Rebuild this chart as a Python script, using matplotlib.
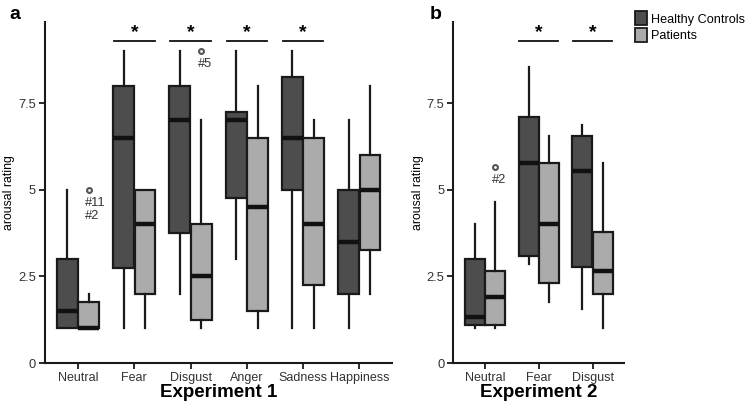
import matplotlib
matplotlib.use("Agg")
import matplotlib.pyplot as plt
from matplotlib.patches import Patch

plt.rcParams['font.family'] = ['Liberation Sans', 'DejaVu Sans']

# Experiment 1 (panel a)
cats_a = ['Neutral', 'Fear', 'Disgust', 'Anger', 'Sadness', 'Happiness']
hc_a_lo = [1.0, 1.0, 2.0, 3.0, 1.0, 1.0]
hc_a_q1 = [1.0, 2.75, 3.75, 4.75, 5.0, 2.0]
hc_a_med = [1.5, 6.5, 7.0, 7.0, 6.5, 3.5]
hc_a_q3 = [3.0, 8.0, 8.0, 7.25, 8.25, 5.0]
hc_a_hi = [5.0, 9.0, 9.0, 9.0, 9.0, 7.0]
pt_a_lo = [1.0, 1.0, 1.0, 1.0, 1.0, 2.0]
pt_a_q1 = [1.0, 2.0, 1.25, 1.5, 2.25, 3.25]
pt_a_med = [1.0, 4.0, 2.5, 4.5, 4.0, 5.0]
pt_a_q3 = [1.75, 5.0, 4.0, 6.5, 6.5, 6.0]
pt_a_hi = [2.0, 5.0, 7.0, 8.0, 7.0, 8.0]
pt_a_fliers = [[5.0], [], [9.0], [], [], []]
pt_a_flier_labels = ['#11\n#2', '', '#5', '', '', '']
sig_a = [False, True, True, True, True, False]

# Experiment 2 (panel b)
cats_b = ['Neutral', 'Fear', 'Disgust']
hc_b_lo = [1.0, 2.87, 1.56]
hc_b_q1 = [1.1, 3.1, 2.78]
hc_b_med = [1.33, 5.78, 5.55]
hc_b_q3 = [3.0, 7.1, 6.55]
hc_b_hi = [4.0, 8.55, 6.87]
pt_b_lo = [1.0, 1.77, 1.0]
pt_b_q1 = [1.1, 2.32, 2.0]
pt_b_med = [1.9, 4.0, 2.66]
pt_b_q3 = [2.67, 5.78, 3.78]
pt_b_hi = [4.65, 6.55, 5.76]
pt_b_fliers = [[5.67], [], []]
pt_b_flier_labels = ['#2', '', '']
sig_b = [False, True, True]

hc_col = '#4d4d4d'
pt_col = '#ababab'
edge = '#1a1a1a'


def make_stats(lo, q1, med, q3, hi, fliers=None):
    out = []
    for i in range(len(lo)):
        out.append(dict(whislo=lo[i], q1=q1[i], med=med[i], q3=q3[i],
                        whishi=hi[i], fliers=fliers[i] if fliers else []))
    return out


def draw_group(ax, stats, pos, color):
    ax.bxp(stats, positions=pos, widths=0.37, patch_artist=True,
           showcaps=False,
           boxprops=dict(facecolor=color, edgecolor=edge, linewidth=1.6),
           medianprops=dict(color='#111111', linewidth=3.2, solid_capstyle='butt'),
           whiskerprops=dict(color=edge, linewidth=1.6),
           flierprops=dict(marker='o', markersize=3.5, markerfacecolor='white',
                           markeredgecolor='#555555', markeredgewidth=1.5),
           zorder=2)


def panel(ax, cats, hc, pt, fliers, flabels, sig, xlab):
    n = len(cats)
    xs = list(range(1, n + 1))
    hc_pos = [x - 0.19 for x in xs]
    pt_pos = [x + 0.19 for x in xs]
    draw_group(ax, make_stats(*hc), hc_pos, hc_col)
    draw_group(ax, make_stats(*pt, fliers), pt_pos, pt_col)
    for i in range(n):
        if flabels[i]:
            ax.text(pt_pos[i] - 0.06, fliers[i][0] - 0.2, flabels[i],
                    ha='left', va='top', fontsize=9.3, color='#333333',
                    linespacing=1.15)
        if sig[i]:
            ax.plot([xs[i] - 0.36, xs[i] + 0.36], [9.3, 9.3], color='#111111', lw=1.3,
                    clip_on=False)
            ax.text(xs[i], 9.3, '*', ha='center', va='bottom', fontsize=14,
                    fontweight='bold')
    ax.set_xlim(0.41, n + 0.58)
    ax.set_ylim(0, 9.84)
    ax.set_xticks(xs)
    ax.set_xticklabels(cats, fontsize=9.0)
    ax.set_yticks([0, 2.5, 5, 7.5])
    ax.set_yticklabels(['0', '2.5', '5', '7.5'], fontsize=9.3)
    ax.set_ylabel('arousal rating', fontsize=8.8, labelpad=2)
    ax.set_xlabel(xlab, fontsize=13.5, fontweight='bold', labelpad=0)
    ax.spines['top'].set_visible(False)
    ax.spines['right'].set_visible(False)
    for s in ['left', 'bottom']:
        ax.spines[s].set_linewidth(1.5)
        ax.spines[s].set_color('#1a1a1a')
    ax.tick_params(axis='both', length=4, width=1.3, color='#1a1a1a', pad=2.5,
                   labelcolor='#333333')


fig = plt.figure(figsize=(7.48, 4.08), dpi=100)
ax1 = fig.add_axes([0.060, 0.110, 0.464, 0.836])
ax2 = fig.add_axes([0.606, 0.110, 0.228, 0.836])

panel(ax1, cats_a,
      (hc_a_lo, hc_a_q1, hc_a_med, hc_a_q3, hc_a_hi),
      (pt_a_lo, pt_a_q1, pt_a_med, pt_a_q3, pt_a_hi),
      pt_a_fliers, pt_a_flier_labels, sig_a, 'Experiment 1')
panel(ax2, cats_b,
      (hc_b_lo, hc_b_q1, hc_b_med, hc_b_q3, hc_b_hi),
      (pt_b_lo, pt_b_q1, pt_b_med, pt_b_q3, pt_b_hi),
      pt_b_fliers, pt_b_flier_labels, sig_b, 'Experiment 2')

fig.text(0.012, 0.985, 'a', fontsize=14, fontweight='bold', va='top')
fig.text(0.575, 0.985, 'b', fontsize=14, fontweight='bold', va='top')

handles = [Patch(facecolor=hc_col, edgecolor=edge, linewidth=1.3, label='Healthy Controls'),
           Patch(facecolor=pt_col, edgecolor=edge, linewidth=1.3, label='Patients')]
fig.legend(handles=handles, loc='upper left', bbox_to_anchor=(0.849, 0.972),
           frameon=False, fontsize=9.1, handlelength=0.95, handleheight=1.3,
           handletextpad=0.3, labelspacing=0.2, borderaxespad=0, borderpad=0)

fig.savefig('out.png', dpi=100)
